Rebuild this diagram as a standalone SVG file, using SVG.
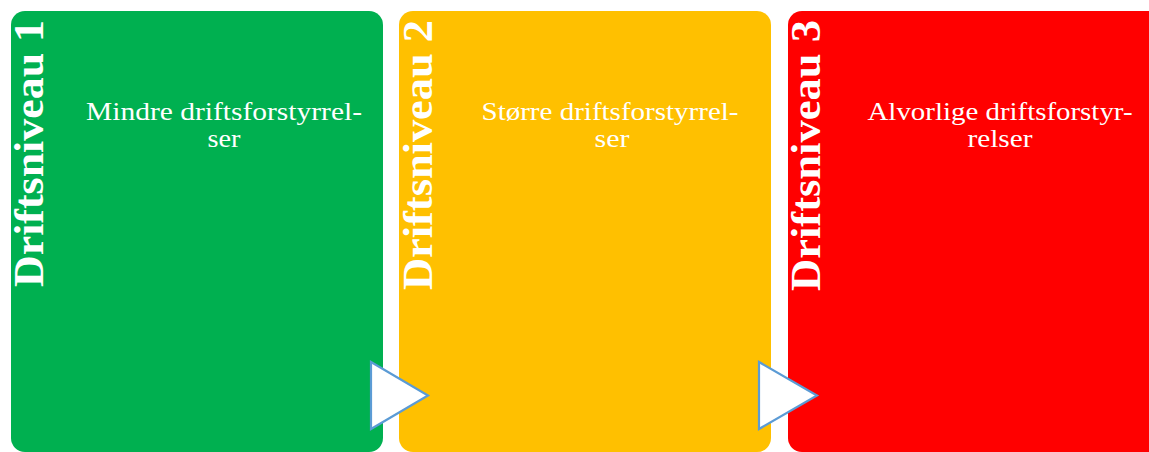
<svg xmlns="http://www.w3.org/2000/svg" width="1149" height="452" viewBox="0 0 1149 452">
<style>
.title{font-family:"Liberation Serif","DejaVu Serif",serif;font-weight:bold;font-size:42px;fill:#fff}
.body{font-family:"Liberation Serif","DejaVu Serif",serif;font-size:25px;fill:#fff;text-anchor:middle}
.arrow{fill:#fff;stroke:#5B9BD5;stroke-width:2.2;stroke-linejoin:miter}
</style>
<rect width="1149" height="452" fill="#fff"/>
<g id="node1">
<rect x="11" y="11" width="372" height="441" rx="14" fill="#00B050"/>
<text class="title" transform="translate(43,287) rotate(-90)" textLength="267" lengthAdjust="spacingAndGlyphs">Driftsniveau 1</text>
<text class="body" x="224" y="120" textLength="276" lengthAdjust="spacingAndGlyphs">Mindre driftsforstyrrel-</text>
<text class="body" x="224" y="147" textLength="33" lengthAdjust="spacingAndGlyphs">ser</text>
</g>
<g id="node2">
<rect x="399" y="11" width="372" height="441" rx="14" fill="#FFC000"/>
<text class="title" transform="translate(432,290) rotate(-90)" textLength="270" lengthAdjust="spacingAndGlyphs">Driftsniveau 2</text>
<text class="body" x="610" y="120" textLength="257" lengthAdjust="spacingAndGlyphs">Større driftsforstyrrel-</text>
<text class="body" x="612" y="147" textLength="35" lengthAdjust="spacingAndGlyphs">ser</text>
</g>
<g id="node3">
<rect x="788" y="11" width="400" height="441" rx="14" fill="#FF0000"/>
<text class="title" transform="translate(820,291) rotate(-90)" textLength="271" lengthAdjust="spacingAndGlyphs">Driftsniveau 3</text>
<text class="body" x="1000" y="120" textLength="265" lengthAdjust="spacingAndGlyphs">Alvorlige driftsforstyr-</text>
<text class="body" x="1000" y="147" textLength="65" lengthAdjust="spacingAndGlyphs">relser</text>
</g>
<g id="connectors">
<polygon class="arrow" points="371,362 428,395.5 371,429"/>
<polygon class="arrow" points="759,362 817,395.5 759,429"/>
</g>
</svg>
